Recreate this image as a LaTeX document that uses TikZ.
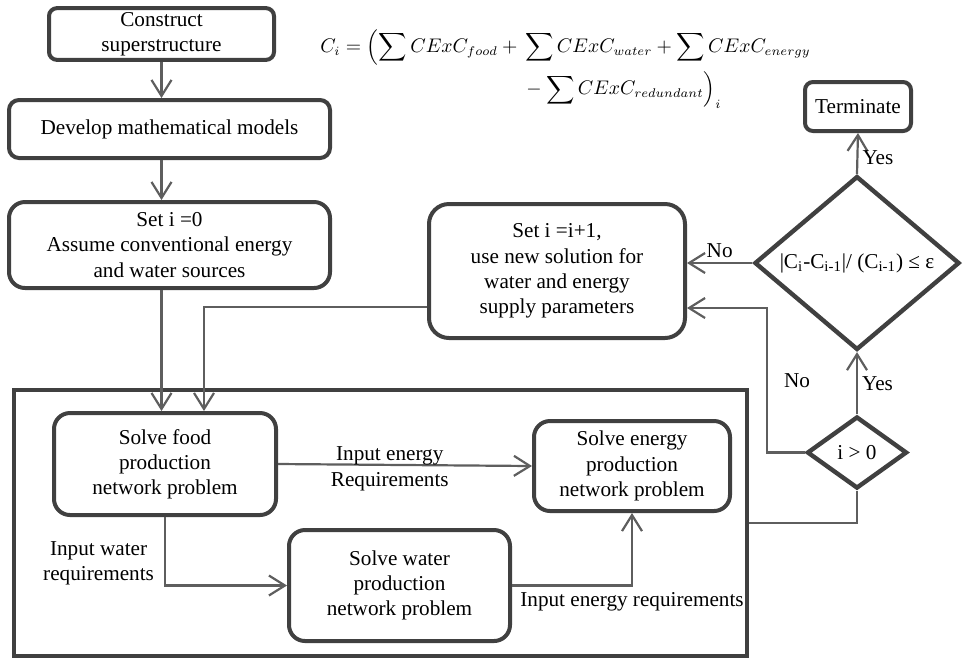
\documentclass[tikz,border=0pt]{standalone}
\usepackage{amsmath}
\usepackage{fontspec}
\setmainfont{Liberation Serif}
\usetikzlibrary{positioning,shapes.geometric,arrows.meta}

\definecolor{boxgray}{HTML}{404040}
\definecolor{linegray}{HTML}{5E5E5E}

\tikzset{
    stage/.style={draw=boxgray, line width=2pt, rounded corners=8pt, align=center, inner sep=2pt},
    test/.style={draw=boxgray, line width=2.2pt, diamond, align=center, inner sep=0pt},
    flow/.style={draw=linegray, line width=1.1pt, -{Straight Barb[length=8pt,width=10pt]}},
    link/.style={draw=linegray, line width=1.1pt},
    note/.style={align=center, inner sep=2pt}
}

\begin{document}
\begin{tikzpicture}[x=0.5pt, y=-0.5pt, font=\fontsize{10.6}{12.6}\selectfont]
    \useasboundingbox (0,0) rectangle (964,661);

    % cost of the current solution
    \node[anchor=west, inner sep=0pt] (cost) at (320,69) {\scalebox{0.9}{$\begin{aligned}
        C_i = \Bigl(\sum CExC_{food} + {} &\sum CExC_{water} + \sum CExC_{energy}\\
        &-\sum CExC_{redundant}\Bigr)_i
    \end{aligned}$}};

    % set-up steps
    \node[stage, rounded corners=4pt, minimum width=112.5pt, minimum height=25pt] (construct) at (161.5,34) {Construct\\superstructure};
    \node[stage, rounded corners=5pt, minimum width=160.5pt, minimum height=29pt] (develop) at (169.5,129) {Develop mathematical models};
    \node[stage, minimum width=160.5pt, minimum height=43pt] (init) at (169.5,245) {Set i =0\\Assume conventional energy\\and water sources};
    \node[stage, rounded corners=10pt, minimum width=128pt, minimum height=67pt] (update) at (557,271) {Set i =i+1,\\use new solution for\\water and energy\\supply parameters};

    % decisions
    \node[stage, rounded corners=4pt, minimum width=53pt, minimum height=24.5pt] (term) at (858,106.5) {Terminate};
    \node[test, minimum width=102.5pt, minimum height=75pt] (check) at (857,263) {|C\textsubscript{i}-C\textsubscript{i-1}|/ (C\textsubscript{i-1}) ≤ ε};
    \node[test, minimum width=50pt, minimum height=36pt] (pos) at (857,452.5) {i > 0};

    % network problems
    \node[draw=boxgray, line width=2.4pt, minimum width=366.5pt, minimum height=133pt] (frame) at (380.5,523) {};
    \node[stage, minimum width=111pt, minimum height=51pt] (food) at (165,464) {Solve food\\production\\network problem};
    \node[stage, minimum width=110.5pt, minimum height=55.5pt] (water) at (399.5,585.5) {Solve water\\production\\network problem};
    \node[stage, minimum width=98pt, minimum height=45pt] (energy) at (632,466) {Solve energy\\production\\network problem};

    \coordinate (retry) at (767,308);

    % flow of the procedure
    \draw[flow] (construct.south) -- (construct.south |- develop.north);
    \draw[flow] (construct.south |- develop.south) -- (construct.south |- init.north);
    \draw[flow] (construct.south |- init.south) -- (construct.south |- food.north);
    \draw[flow] ([yshift=-18pt]update.west) -| ([xshift=19.5pt]food.north);

    \draw[flow] (food.east) -- (energy.west) node[note, pos=0.44, yshift=-2pt] {Input energy\\Requirements};
    \draw[flow] (food.south) |- (water.west) node[note, pos=0.34, left=3pt] {Input water\\requirements};
    \draw[flow] (water.east) -| (energy.south) node[note, pos=0.5, below=1pt] {Input energy requirements};

    \draw[link] (frame.east) -| (pos.south);
    \draw[flow] (pos.north) -- (check.south) node[note, midway, right] {Yes};
    \draw[flow] (pos.west) -- (pos.west -| retry) -- (retry) node[note, midway, right=6pt] {No} -- (retry -| update.east);
    \draw[flow] (check.west) -- (check.west -| update.east) node[note, midway, above] {No};
    \draw[flow] (check.north) -- (term.south) node[note, pos=0.4, right] {Yes};
\end{tikzpicture}
\end{document}
